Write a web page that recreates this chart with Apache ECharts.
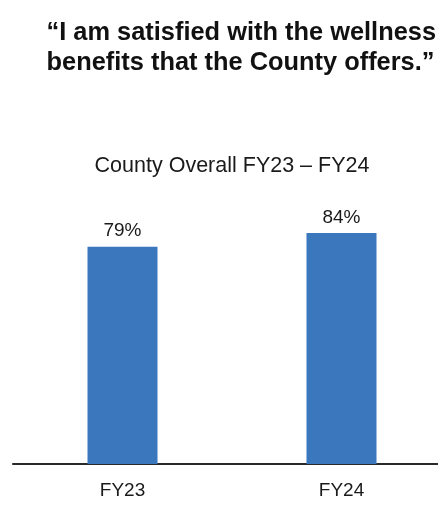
<!DOCTYPE html>
<html>
<head>
<meta charset="utf-8">
<script src="https://cdn.jsdelivr.net/npm/echarts@6/dist/echarts.min.js"></script>
<style>
  html, body { margin: 0; padding: 0; background: #fff; }
  #chart { width: 438px; height: 506px; }
</style>
</head>
<body>
<div id="chart"></div>
<script>
// Survey result: share of employees satisfied with wellness benefits
const headline = '\u201CI am satisfied with the wellness\nbenefits that the County offers.\u201D';
const subtitle = 'County Overall FY23 \u2013 FY24';
const years = ['FY23', 'FY24'];
const satisfiedPct = [79, 84];

const FONT = '"Liberation Sans", Arial, Helvetica, sans-serif';

const chart = echarts.init(document.getElementById('chart'), null, { renderer: 'canvas' });

chart.setOption({
  backgroundColor: '#ffffff',
  animation: false,
  title: [
    {
      text: headline,
      right: -3,
      top: 13,
      textAlign: 'left',
      textStyle: {
        fontFamily: FONT,
        fontSize: 25.4,
        fontWeight: 'bold',
        lineHeight: 30,
        color: '#111111'
      }
    },
    {
      text: subtitle,
      left: 227,
      top: 150,
      textAlign: 'center',
      textStyle: {
        fontFamily: FONT,
        fontSize: 21.5,
        fontWeight: 'normal',
        color: '#1a1a1a'
      }
    }
  ],
  grid: {
    left: 13,
    width: 438,
    top: 189,
    bottom: 42,
    outerBoundsMode: 'none'
  },
  xAxis: {
    type: 'category',
    data: years,
    axisLine: { show: true, lineStyle: { color: '#2a2a2a', width: 2 } },
    axisTick: { show: false },
    axisLabel: {
      margin: 17,
      fontFamily: FONT,
      fontSize: 19,
      color: '#1a1a1a'
    },
    splitLine: { show: false }
  },
  yAxis: {
    type: 'value',
    min: 0,
    max: 100,
    show: false
  },
  series: [
    {
      type: 'bar',
      data: satisfiedPct,
      barWidth: 70,
      itemStyle: { color: '#3b77bd' },
      label: {
        show: true,
        position: 'top',
        distance: 6,
        formatter: p => p.value + '%',
        fontFamily: FONT,
        fontSize: 19,
        color: '#1a1a1a'
      }
    }
  ]
});
</script>
</body>
</html>
